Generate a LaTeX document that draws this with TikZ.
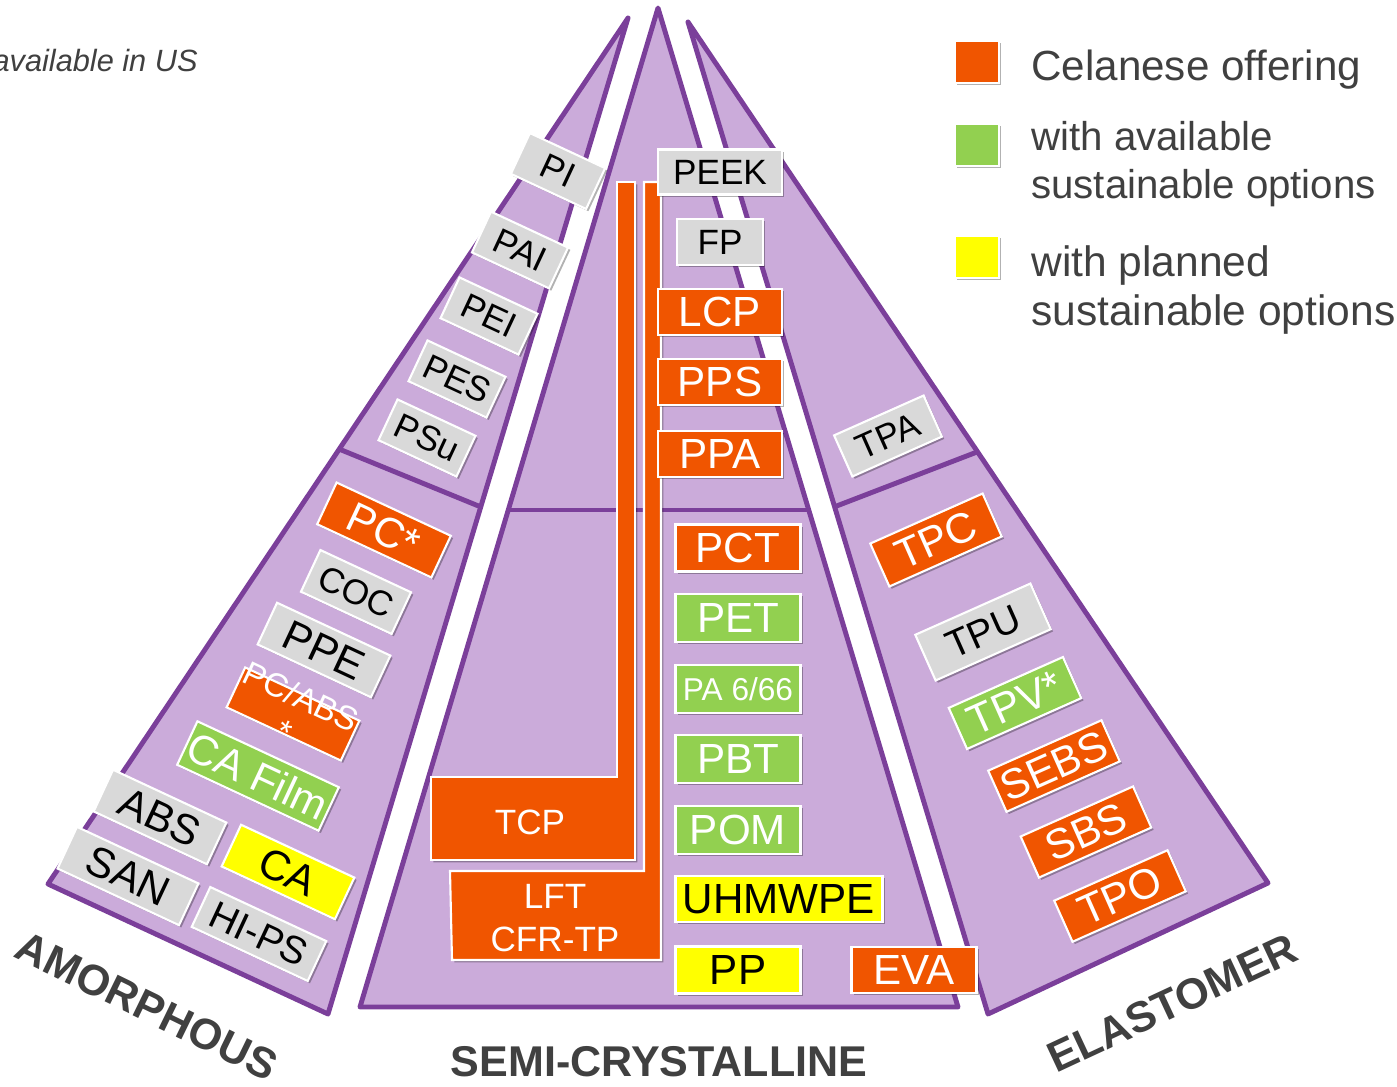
\documentclass[tikz,border=0pt]{standalone}
\usepackage{fontspec}
\setmainfont{Liberation Sans}
\usetikzlibrary{shadows}
\definecolor{orng}{HTML}{F05500}
\definecolor{grn}{HTML}{92D050}
\definecolor{ylw}{HTML}{FFFF00}
\definecolor{gry}{HTML}{D9D9D9}
\definecolor{pfill}{HTML}{CBABDA}
\definecolor{pline}{HTML}{7B3F9A}
\definecolor{dtxt}{HTML}{404040}
\newcommand\fzS{\fontsize{18}{21}\selectfont}
\newcommand\fzM{\fontsize{20}{24}\selectfont}
\newcommand\fzL{\fontsize{22}{26}\selectfont}
\newcommand\fzX{\fontsize{24}{28}\selectfont}
\newcommand\fzT{\bfseries\fontsize{24.5}{28}\selectfont}
\tikzset{
  seg/.style={fill=pfill, draw=pline, line width=2.8pt, line join=round},
  divl/.style={draw=pline, line width=2.8pt},
  shd/.style={drop shadow={shadow xshift=1.3pt, shadow yshift=-1.3pt, opacity=0.3, fill=black}},
  tag/.style={shd, draw=white, line width=1.2pt, inner sep=0pt, align=center},
  og/.style={tag, fill=orng, text=white},
  gr/.style={tag, fill=grn, text=white},
  yl/.style={tag, fill=ylw, text=black},
  gy/.style={tag, fill=gry, text=black},
  bar/.style={shd, fill=orng, draw=white, line width=1.2pt},
  sz/.style 2 args={minimum width=#1*0.02cm, minimum height=#2*0.02cm},
  lt/.style={rotate=-25},
  rt/.style={rotate=24},
  ttl/.style={font=\fzT, text=dtxt, inner sep=0pt},
  leg/.style={font=\fzX, text=dtxt, anchor=base west, inner sep=0pt},
}
\begin{document}
\begin{tikzpicture}[x=0.02cm,y=-0.02cm]
\useasboundingbox (0,0) rectangle (1397,1086);
% segments
\path[seg] (628,18) -- (48,884) -- (328,1014) -- cycle;
\path[seg] (658,8) -- (360,1007) -- (958,1007) -- cycle;
\path[seg] (688,22) -- (988,1014) -- (1268,883) -- cycle;
\draw[divl] (339,449) -- (481,507);
\draw[divl] (508,510) -- (809,510);
\draw[divl] (834,507) -- (977,452);
% bars
\path[bar] (617,182) -- (635,182) -- (635,860) -- (431,860) -- (431,777) -- (617,777) -- cycle;
\path[bar] (644,182) -- (661,182) -- (661,960) -- (452,960) -- (450,871) -- (644,871) -- cycle;
\node[text=white, font=\fzM, inner sep=0pt] (tcp) at (530,822) {TCP};
\node[text=white, font=\fzM, inner sep=0pt, align=center] (lft) at (555,918) {LFT\\CFR-TP};
% semi-crystalline column
\node[gy, sz={124}{45}, font=\fzM] (peek) at (720,172) {PEEK};
\node[gy, sz={86}{46}, font=\fzM] (fp) at (720,242) {FP};
\node[og, sz={124}{46}, font=\fzX] (lcp) at (720,312) {LCP};
\node[og, sz={124}{46}, font=\fzX] (pps) at (720,382) {PPS};
\node[og, sz={124}{46}, font=\fzX] (ppa) at (720,454) {PPA};
\node[og, sz={125}{47}, font=\fzX] (pct) at (738,548) {PCT};
\node[gr, sz={125}{48}, font=\fzX] (pet) at (738,618) {PET};
\node[gr, sz={125}{48}, font=\fzS] (pa) at (738,689) {PA 6/66};
\node[gr, sz={125}{48}, font=\fzX] (pbt) at (738,759) {PBT};
\node[gr, sz={125}{48}, font=\fzX] (pom) at (738,830) {POM};
\node[yl, sz={207}{46}, font=\fzX] (uhm) at (779,899) {UHMWPE};
\node[yl, sz={125}{47}, font=\fzX] (pp) at (738,970) {PP};
\node[og, sz={125}{46}, font=\fzX] (eva) at (914,970) {EVA};
% amorphous
\node[gy, lt, sz={83}{45}, font=\fzM] (pi) at (558,171) {PI};
\node[gy, lt, sz={85}{45}, font=\fzM] (pai) at (520,250) {PAI};
\node[gy, lt, sz={86}{45}, font=\fzM] (pei) at (489,316) {PEI};
\node[gy, lt, sz={86}{45}, font=\fzM] (pes) at (457,379) {PES};
\node[gy, lt, sz={86}{45}, font=\fzM] (psu) at (427,438) {PSu};
\node[og, lt, sz={126}{46}, font=\fzX] (pc) at (384,530) {PC*};
\node[gy, lt, sz={100}{46}, font=\fzM] (coc) at (356,592) {COC};
\node[gy, lt, sz={125}{46}, font=\fzX] (ppe) at (324,650) {PPE};
\node[og, lt, sz={126}{44}] (pcabs) at (293,714) {};
\node[lt, text=white, font=\fontsize{19}{22}\selectfont, align=center, inner sep=0pt] (pcabst) at (293,714) {PC/ABS\\*};
\node[gr, lt, sz={156}{48}, font=\fzX] (caf) at (258,776) {CA Film};
\node[gy, lt, sz={125}{46}, font=\fzX] (abs) at (160,817) {ABS};
\node[gy, lt, sz={134}{46}, font=\fzX] (san) at (128,876) {SAN};
\node[yl, lt, sz={125}{46}, font=\fzX] (ca) at (288,872) {CA};
\node[gy, lt, sz={128}{44}, font=\fzL] (hips) at (259,934) {HI-PS};
% elastomer
\node[gy, rt, sz={98}{45}, font=\fzM] (tpa) at (888,436) {TPA};
\node[og, rt, sz={123}{47}, font=\fzX] (tpc) at (936,540) {TPC};
\node[gy, rt, sz={126}{50}, font=\fzL] (tpu) at (983,632) {TPU};
\node[gr, rt, sz={125}{45}, font=\fzX] (tpv) at (1015,703) {TPV*};
\node[og, rt, sz={124}{45}, font=\fzX] (sebs) at (1054,766) {SEBS};
\node[og, rt, sz={123}{45}, font=\fzX] (sbs) at (1086,832) {SBS};
\node[og, rt, sz={124}{45}, font=\fzX] (tpo) at (1120,896) {TPO};
% titles
\node[ttl, rotate=-26] (amo) at (147,1006) {AMORPHOUS};
\node[ttl, anchor=base] (semi) at (659,1076) {SEMI-CRYSTALLINE};
\node[ttl, rotate=25] (ela) at (1172,1003) {ELASTOMER};
\node[text=dtxt, font=\itshape\fontsize{17.5}{20}\selectfont, anchor=base east, inner sep=0pt] (note) at (198,71) {available in US};
% legend
\node[tag, fill=orng, sz={44}{42}] (lg1) at (977,62) {};
\node[tag, fill=grn, sz={44}{42}] (lg2) at (977,145) {};
\node[tag, fill=ylw, sz={44}{42}] (lg3) at (977,257) {};
\node[leg] (lt1) at (1031,80) {Celanese offering};
\node[leg, font=\fontsize{22.9}{26}\selectfont] (lt2a) at (1031,150) {with available};
\node[leg, font=\fontsize{22.9}{26}\selectfont] (lt2b) at (1031,198) {sustainable options};
\node[leg, font=\fontsize{24.2}{28}\selectfont] (lt3a) at (1031,276) {with planned};
\node[leg, font=\fontsize{24.2}{28}\selectfont] (lt3b) at (1031,325) {sustainable options};
\end{tikzpicture}
\end{document}
